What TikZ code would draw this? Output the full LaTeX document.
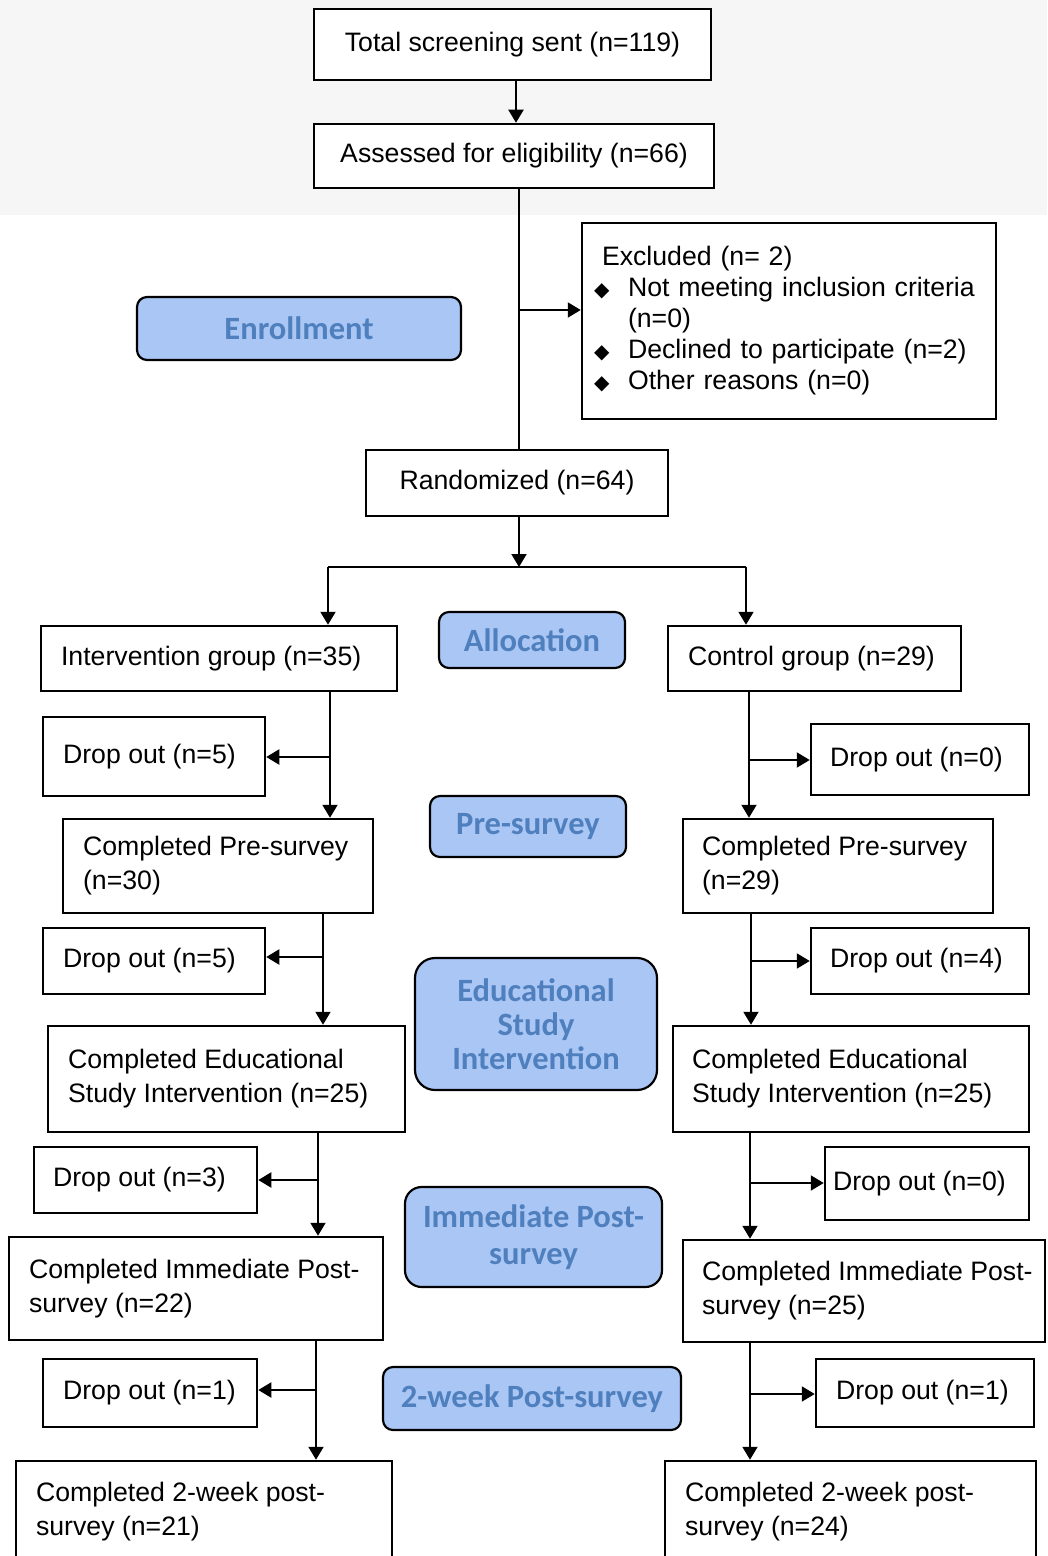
\documentclass[tikz,border=0pt]{standalone}
\usepackage{fontspec}
\setmainfont{Liberation Sans}
\newfontfamily\carlito{Carlito}
\newfontfamily\dejavu{DejaVu Sans}
\usetikzlibrary{arrows.meta}

\definecolor{phasefill}{HTML}{A9C6F5}
\definecolor{phasetext}{HTML}{4F80BD}
\definecolor{topband}{HTML}{F6F6F6}

\newcommand{\bul}{\makebox[20.4pt][l]{\dejavu\fontsize{12}{12}\selectfont ◆}}

\tikzset{
  box/.style n args={4}{draw, line width=1.5pt, fill=white,
    minimum width=#1*0.6pt, minimum height=#2*0.6pt,
    label={[anchor=west, xshift=#3*0.6pt, inner sep=0pt, align=left,
      font=\fontsize{16}{20.4}\selectfont]west:{#4}}},
  cbox/.style 2 args={draw, line width=1.5pt, fill=white, inner sep=0pt,
    minimum width=#1*0.6pt, minimum height=#2*0.6pt,
    font=\fontsize{16}{20.4}\selectfont},
  phase/.style 2 args={draw, line width=1.3pt, fill=phasefill, text=phasetext,
    rounded corners=6pt, align=center, inner sep=0pt,
    minimum width=#1*0.6pt, minimum height=#2*0.6pt,
    font=\carlito\bfseries\fontsize{19.5}{20.5}\selectfont},
  arr/.style={line width=1.2pt, -{Triangle[width=9pt,length=7.8pt]}},
}

\begin{document}
\begin{tikzpicture}[x=0.6pt,y=-0.6pt]
    \useasboundingbox (0,0) rectangle (1047,1556);
    \fill [topband] (0,0) rectangle (1047,215);

    % enrollment
    \node [cbox={397}{71}] (tot) at (512.5,44.5) {Total screening sent (n=119)};
    \node [cbox={400}{64}] (ass) at (514,156) {Assessed for eligibility (n=66)};
    \node [phase={324}{63}] (enr) at (299,328.5) {Enrollment};
    \node [draw, line width=1.5pt, fill=white, minimum width=248.4pt,
           minimum height=117.6pt, text width=234pt, inner xsep=7.2pt,
           align=left, font=\fontsize{16}{18.6}\selectfont] (exc) at (789,321)
          {\hspace*{4.8pt}Excluded (n= 2)\\
           \bul Not meeting inclusion criteria\\
           \hspace*{20.4pt}(n=0)\\
           \bul Declined to participate (n=2)\\
           \bul Other reasons (n=0)};
    \node [cbox={302}{66}] (rnd) at (517,483) {Randomized (n=64)};

    % allocation
    \node [box={356}{65}{21}{Intervention group (n=35)}] (int) at (219,658.5) {};
    \node [phase={186}{56}] (alc) at (532,640) {Allocation};
    \node [box={293}{65}{21}{Control group (n=29)}] (ctl) at (814.5,658.5) {};

    % pre-survey
    \node [box={222}{79}{21}{Drop out (n=5)}] (dl1) at (154,756.5) {};
    \node [box={218}{71}{20}{Drop out (n=0)}] (dr1) at (920,759.5) {};
    \node [phase={196}{61}] (pre) at (528,826.5) {Pre-survey};
    \node [box={310}{94}{21}{Completed Pre-survey\\(n=30)}] (cpl) at (218,866) {};
    \node [box={310}{94}{20}{Completed Pre-survey\\(n=29)}] (cpr) at (838,866) {};

    % intervention
    \node [box={222}{66}{21}{Drop out (n=5)}] (dl2) at (154,961) {};
    \node [box={218}{66}{20}{Drop out (n=4)}] (dr2) at (920,961) {};
    \node [phase={242}{132}, rounded corners=12pt] (edu) at (536,1024)
          {Educational\\Study\\Intervention};
    \node [box={357}{106}{21}{Completed Educational\\Study Intervention (n=25)}] (cel) at (226.5,1079) {};
    \node [box={356}{106}{20}{Completed Educational\\Study Intervention (n=25)}] (cer) at (851,1079) {};

    % immediate post-survey
    \node [box={223}{66}{20}{Drop out (n=3)}] (dl3) at (145.5,1180) {};
    \node [box={204}{73}{9}{Drop out (n=0)}] (dr3) at (927,1183.5) {};
    \node [phase={257}{100}, rounded corners=10pt,
           font=\carlito\bfseries\fontsize{19.5}{22.5}\selectfont] (imm) at (533.5,1237)
          {Immediate Post-\\survey};
    \node [box={374}{103}{21}{Completed Immediate Post-\\survey (n=22)}] (cil) at (196,1288.5) {};
    \node [box={362}{102}{20}{Completed Immediate Post-\\survey (n=25)}] (cir) at (864,1291) {};

    % 2-week post-survey
    \node [box={214}{68}{21}{Drop out (n=1)}] (dl4) at (150,1393) {};
    \node [box={218}{68}{21}{Drop out (n=1)}] (dr4) at (925,1393) {};
    \node [phase={298}{63}] (twk) at (532,1398.5) {2-week Post-survey};
    \node [box={376}{102}{21}{Completed 2-week post-\\survey (n=21)}] (c2l) at (204,1512) {};
    \node [box={371}{102}{21}{Completed 2-week post-\\survey (n=24)}] (c2r) at (850.5,1512) {};

    % junctions
    \coordinate (c0) at (516,100);
    \coordinate (c1) at (519,310);
    \coordinate (c2) at (519,567);
    \coordinate (cl) at (328,567);
    \coordinate (cr) at (746,567);
    \coordinate (l1) at (330,757);  \coordinate (r1) at (749,760);
    \coordinate (l2) at (323,957);  \coordinate (r2) at (751,961);
    \coordinate (l3) at (318,1180); \coordinate (r3) at (750,1183);
    \coordinate (l4) at (316,1390); \coordinate (r4) at (750,1394);

    \draw [arr] (tot.south -| c0) -- (ass.north -| c0);
    \draw [line width=1.2pt] (ass.south -| c1) -- (rnd.north -| c1);
    \draw [arr] (c1) -- (c1 -| exc.west);
    \draw [arr] (rnd.south -| c2) -- (c2);
    \draw [line width=1.2pt] (cl) -- (cr);
    \draw [arr] (cl) -- (cl |- int.north);
    \draw [arr] (cr) -- (cr |- ctl.north);

    \foreach \up/\dn/\jn/\dr/\sd in {int/cpl/l1/dl1/east, cpl/cel/l2/dl2/east,
        cel/cil/l3/dl3/east, cil/c2l/l4/dl4/east, ctl/cpr/r1/dr1/west,
        cpr/cer/r2/dr2/west, cer/cir/r3/dr3/west, cir/c2r/r4/dr4/west}{%
        \draw [arr] (\up.south -| \jn) -- (\dn.north -| \jn);
        \draw [arr] (\jn) -- (\jn -| \dr.\sd);}
\end{tikzpicture}
\end{document}
